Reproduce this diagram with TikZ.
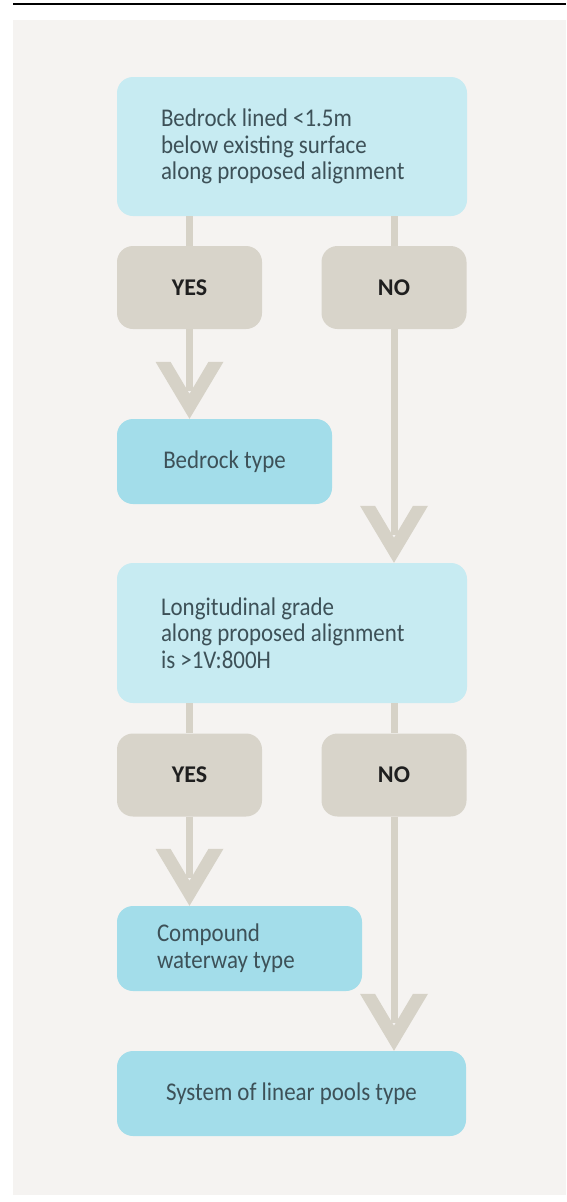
\documentclass[tikz,border=0pt]{standalone}
\usepackage{fontspec}
\setmainfont{Carlito}[FakeStretch=0.9]
\newfontfamily\ansfont{Carlito}
\definecolor{panel}{HTML}{F5F3F1}
\definecolor{qcyan}{HTML}{C7EBF2}
\definecolor{rcyan}{HTML}{A3DDEA}
\definecolor{ansgrey}{HTML}{D8D4CA}
\definecolor{stemgrey}{HTML}{D6D2C7}
\definecolor{txt}{HTML}{3D5158}
\definecolor{anstxt}{HTML}{1F1F1F}
\tikzset{
  qbox/.style={fill=qcyan, rounded corners=16pt, inner sep=0pt, text=txt, align=left,
    minimum width=350pt, text width=262pt, font=\fontsize{25.5}{26.5}\selectfont,
    execute at begin node={\spaceskip=0.2em\relax}},
  resbox/.style={fill=rcyan, rounded corners=16pt, inner sep=0pt, text=txt, align=center,
    minimum height=85pt, font=\fontsize{25.5}{27}\selectfont,
    execute at begin node={\spaceskip=0.2em\relax}},
  ansbox/.style={fill=ansgrey, rounded corners=16pt, inner sep=0pt, text=anstxt,
    minimum width=145pt, minimum height=83pt, font=\ansfont\bfseries\fontsize{24}{28}\selectfont},
  stem/.style={draw=stemgrey, line width=7pt},
  chev/.pic={\fill[stemgrey] (-34pt,57pt) -- (0pt,0pt) -- (34pt,57pt) -- (19pt,57pt)
    -- (0pt,25pt) -- (-19pt,57pt) -- cycle;}
}
\begin{document}
\begin{tikzpicture}[x=1pt,y=-1pt]
  \useasboundingbox (0,0) rectangle (566,1202);
  \fill[white] (0,0) rectangle (566,1202);
  \fill[panel] (13,20) rectangle (566,1195);
  \draw[black, line width=2.2pt] (13,3.8) -- (566,3.8);

  \node[qbox, minimum height=139pt] (q1) at (292,146.5)
    {Bedrock lined <1.5m\\below existing surface\\along proposed alignment};
  \node[ansbox] (yes1) at (189.5,287.5) {YES};
  \node[ansbox] (no1) at (394,287.5) {NO};
  \node[resbox, minimum width=215pt] (r1) at (224.5,461.5) {Bedrock type};
  \node[qbox, minimum height=140pt] (q2) at (292,633)
    {Longitudinal grade\\along proposed alignment\\is >1V:800H};
  \node[ansbox] (yes2) at (189.5,775) {YES};
  \node[ansbox] (no2) at (394,775) {NO};
  \node[resbox, minimum width=245pt, text width=165pt, align=left] (r2) at (239.5,948.5)
    {Compound\\waterway type};
  \node[resbox, minimum width=349pt] (r3) at (291.5,1093.5) {System of linear pools type};

  \begin{scope}[stem]
    \draw (yes1 |- q1.south) -- (yes1.north);
    \draw (no1 |- q1.south) -- (no1.north);
    \draw[shorten >=28pt] (yes1.south) -- (yes1 |- r1.north);
    \draw[shorten >=28pt] (no1.south) -- (no1 |- q2.north);
    \draw (yes2 |- q2.south) -- (yes2.north);
    \draw (no2 |- q2.south) -- (no2.north);
    \draw[shorten >=28pt] (yes2.south) -- (yes2 |- r2.north);
    \draw[shorten >=28pt] (no2.south) -- (no2 |- r3.north);
  \end{scope}
  \pic at (yes1 |- r1.north) {chev};
  \pic at (no1 |- q2.north) {chev};
  \pic at (yes2 |- r2.north) {chev};
  \pic at (no2 |- r3.north) {chev};
\end{tikzpicture}
\end{document}
